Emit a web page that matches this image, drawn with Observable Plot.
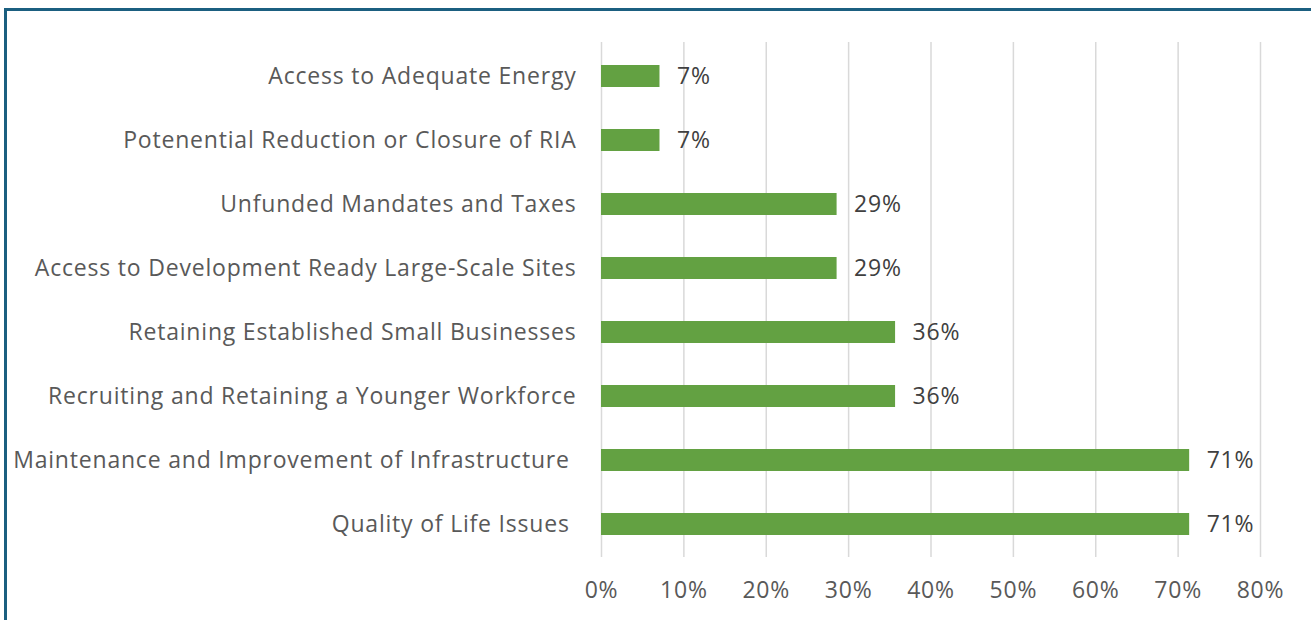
<!DOCTYPE html>
<html>
<head>
<meta charset="utf-8">
<script src="https://cdn.jsdelivr.net/npm/d3@7"></script>
<script src="https://cdn.jsdelivr.net/npm/@observablehq/plot@0.6"></script>
<style>
  html, body { margin: 0; padding: 0; background: #fff; overflow: hidden; width: 1311px; height: 620px; }
  #wrap { position: relative; width: 1311px; height: 620px; }
  #frame { position: absolute; left: 4px; top: 8px; width: 1400px; height: 700px;
           border-left: 3px solid #1b5f80; border-top: 3px solid #1b5f80; pointer-events: none; }
  #chart { position: absolute; left: 0; top: 0; }
  #chart text { letter-spacing: 0.8px; }
</style>
</head>
<body>
<div id="wrap"><div id="chart"></div><div id="frame"></div></div>
<script>
const categories = [
  "Access to Adequate Energy",
  "Potenential Reduction or Closure of RIA",
  "Unfunded Mandates and Taxes",
  "Access to Development Ready Large-Scale Sites",
  "Retaining Established Small Businesses",
  "Recruiting and Retaining a Younger Workforce",
  "Maintenance and Improvement of Infrastructure ",
  "Quality of Life Issues "
];
const values = [7.1, 7.1, 28.6, 28.6, 35.7, 35.7, 71.4, 71.4];
const xTicks = [0, 10, 20, 30, 40, 50, 60, 70, 80];

const data = categories.map((c, i) => ({category: c, value: values[i]}));
const fmtCat = s => s.replace(/ $/, "\u00a0");

const chart = Plot.plot({
  width: 1311,
  height: 620,
  marginLeft: 601,
  marginRight: 51,
  marginTop: 42,
  marginBottom: 63,
  style: {fontFamily: "'Open Sans', sans-serif", color: "#595959", background: "transparent"},
  x: {domain: [0, 80], axis: null, label: null},
  y: {domain: categories, paddingInner: 0.66, paddingOuter: 0.33, axis: null, label: null},
  marks: [
    Plot.ruleX(xTicks, {stroke: "#d9d9d9", strokeWidth: 1.5}),
    Plot.barX(data, {x: "value", y: "category", fill: "#63a142"}),
    Plot.text(data, {x: "value", y: "category", text: d => Math.round(d.value) + "%",
      textAnchor: "start", dx: 17, fontSize: 23, fill: "#404040"}),
    Plot.axisX({ticks: xTicks, tickFormat: d => d + "%", tickSize: 0, tickPadding: 24, fontSize: 23, label: null}),
    Plot.axisY({tickSize: 0, tickPadding: 25, fontSize: 23, tickFormat: fmtCat, label: null})
  ]
});
document.getElementById("chart").appendChild(chart);
</script>
</body>
</html>
